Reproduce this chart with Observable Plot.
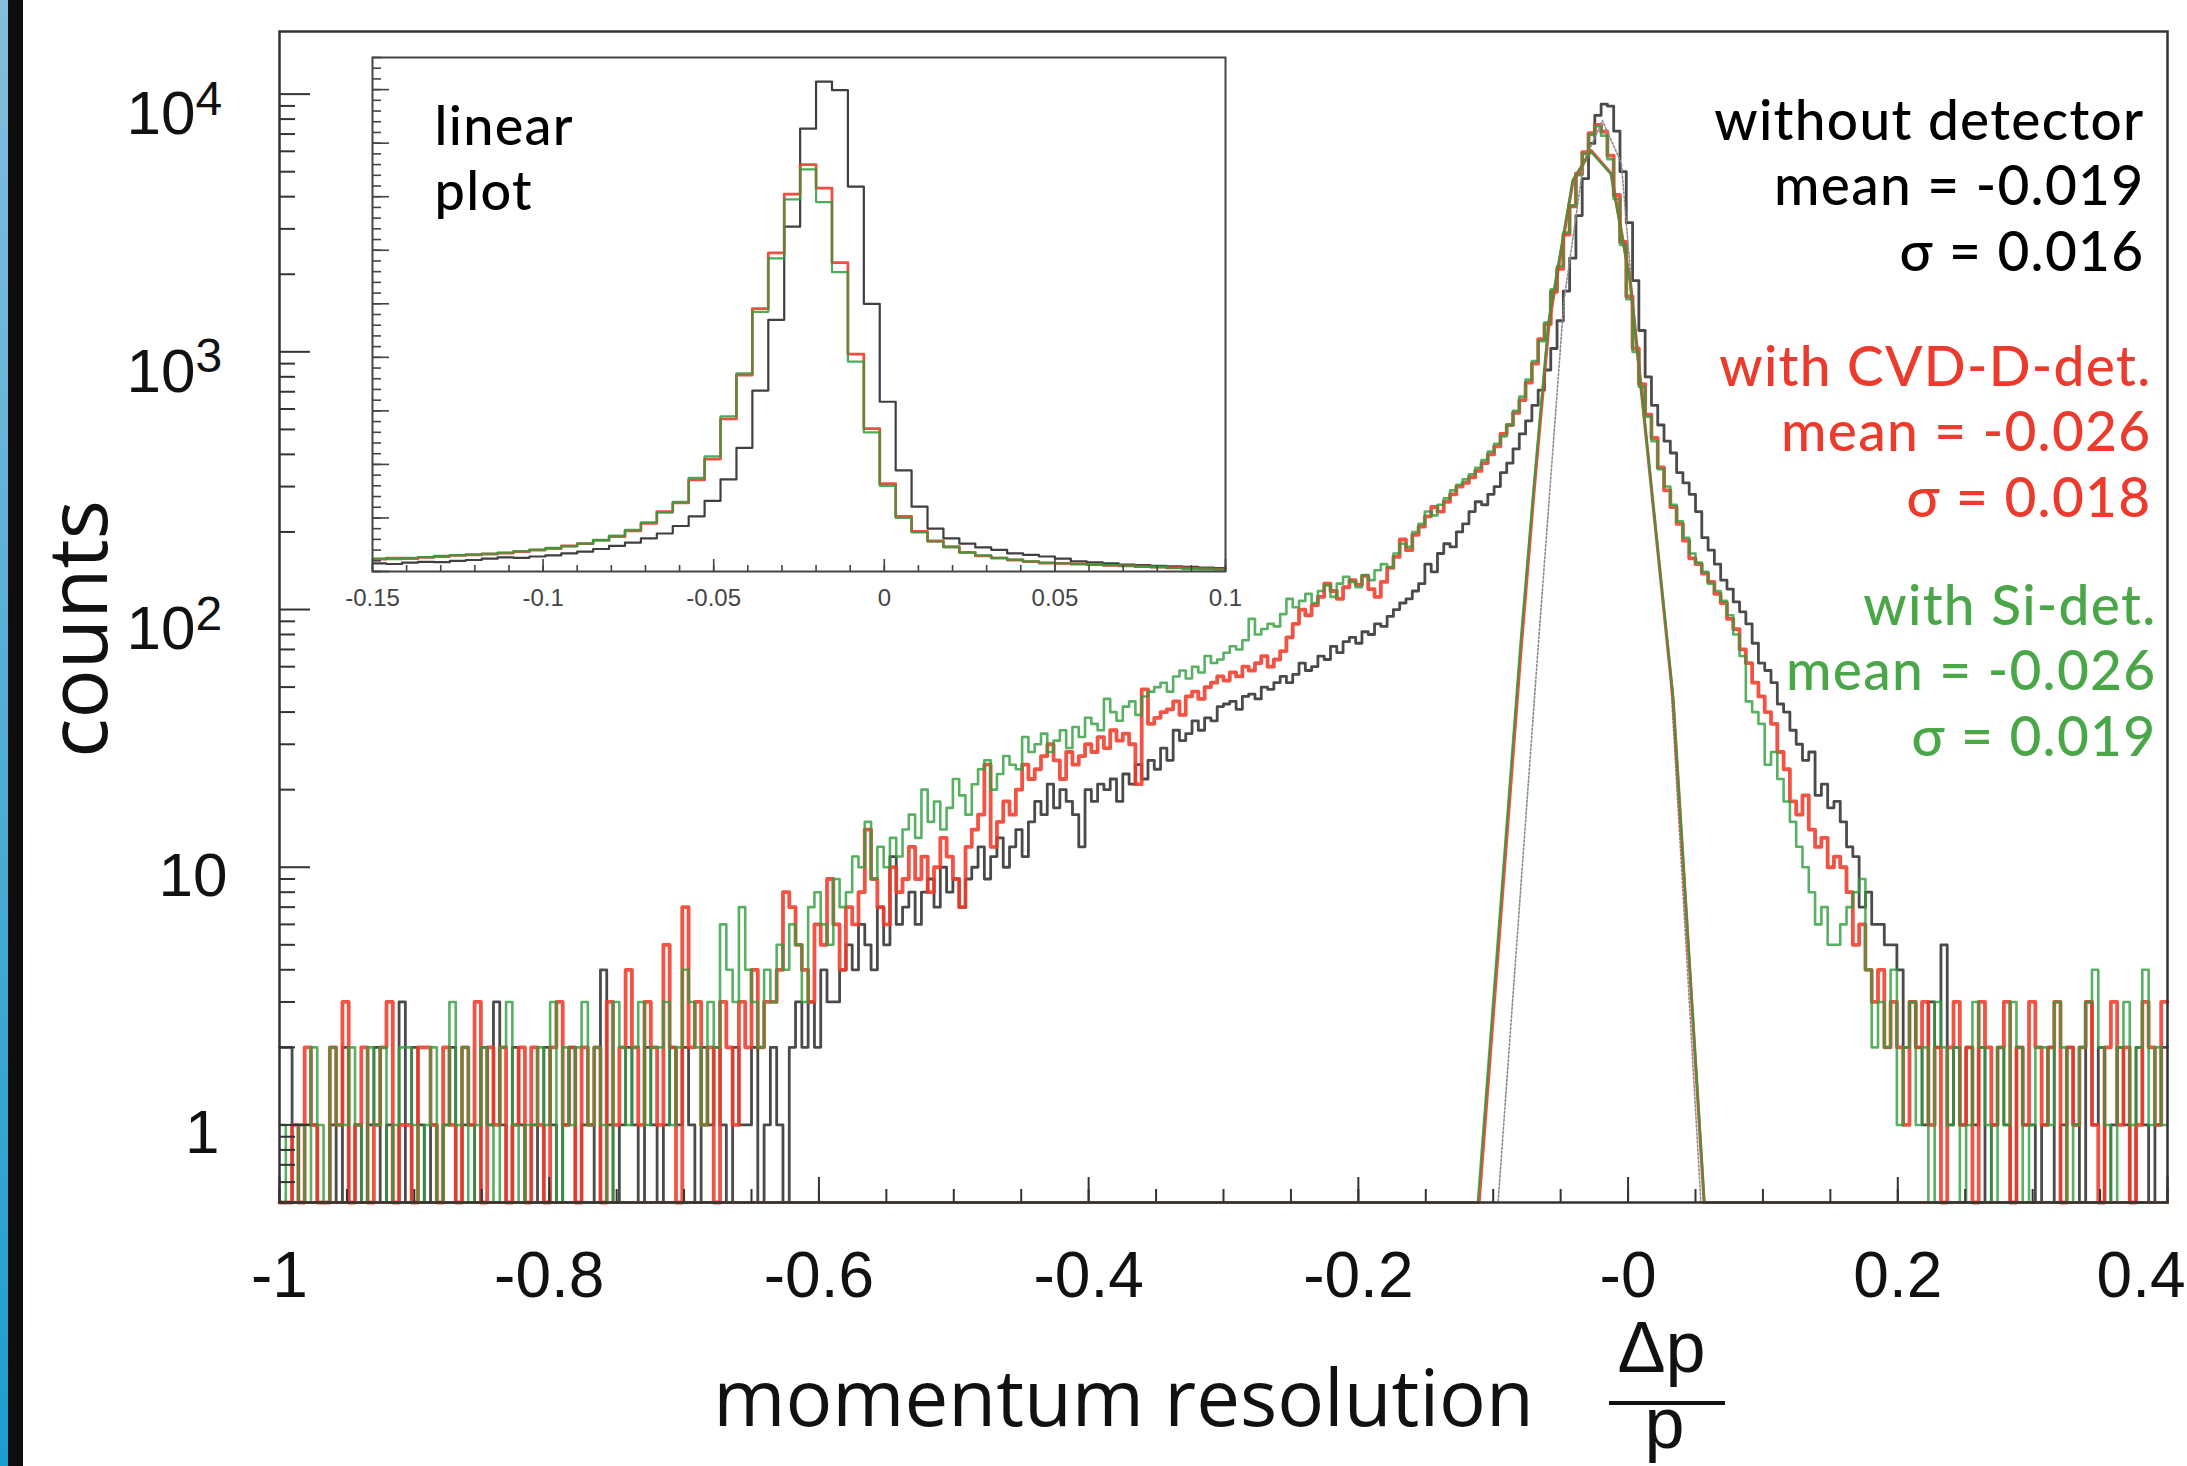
<!DOCTYPE html>
<html><head><meta charset="utf-8">
<script src="https://cdn.jsdelivr.net/npm/d3@7"></script>
<script src="https://cdn.jsdelivr.net/npm/@observablehq/plot@0.6"></script>
<style>
html,body{margin:0;padding:0;background:#fff;}
#wrap{position:relative;width:2187px;height:1466px;overflow:hidden;background:#fff;}
#main{position:absolute;left:0;top:0;}
#inset{position:absolute;left:352px;top:47px;}
.stripBlue{position:absolute;left:0;top:0;width:8px;height:1466px;background:linear-gradient(#86bedb,#1d9dcf);}
.stripBlack{position:absolute;left:8px;top:0;width:15px;height:1466px;background:#0d0d0d;}
g[font-family^="Lato"]{letter-spacing:1.3px;}
</style></head>
<body><div id="wrap"><div id="main"></div><div id="inset"></div><div class="stripBlue"></div><div class="stripBlack"></div></div>
<script>
// ---------------- data ----------------
const xStart = -1, xEnd = 0.4;          // histogram range (300 bins)
const blackCounts = [
2,2,0,1,1,1,0,0,1,0, 2,0,1,0,1,2,0,1,0,3,
0,2,1,0,1,0,1,2,0,1, 1,0,2,1,3,1,0,2,1,0,
1,0,2,1,0,1,2,0,1,1, 0,4,1,0,1,2,1,0,2,1,
0,1,2,1,2,1,0,2,1,2, 1,0,2,1,1,2,0,1,2,1,
0,2,3,2,3,2,4,3,3,4, 5,4,6,5,4,7,5,11,6,7,
8,6,8,9,7,10,8,9,7,9, 10,12,9,11,13,10,12,14,11,15,
18,16,21,17,20,18,16,12,20,18, 21,20,22,18,23,21,25,22,26,24,
29,26,34,31,33,37,34,38,37,42, 43,44,41,46,47,45,50,49,52,55,
52,56,62,58,60,66,64,72,68,75, 78,74,82,80,88,86,94,100,106,110,
118,126,150,140,165,180,175,200,215,240, 262,255,280,300,340,370,420,480,540,620,
710,850,1030,1320,1720,2310,3380,4700,6440,8270, 9150,8990,7190,5000,3170,1890,1210,800,620,520,
450,405,340,310,280,240,190,170,150,130, 120,107,98,88,74,62,58,52,43,40,
34,30,26,28,19,21,17,18,15,12, 11,7,8,6,6,5,5,4,2,3,
2,1,3,2,5,1,2,1,2,1, 2,0,1,2,1,0,2,1,1,0,
1,2,0,1,2,1,0,3,1,2, 0,1,2,1,0,2,1,0,1,2];
const redCounts = [
0,0,1,0,2,1,0,0,2,1, 3,0,1,2,0,1,2,3,0,1,
1,0,2,2,1,0,2,1,0,2, 1,3,0,2,1,2,0,1,2,0,
2,1,0,2,3,1,2,0,2,1, 2,0,3,1,2,4,2,1,3,2,
1,5,2,0,7,2,3,1,2,0, 3,2,1,3,2,4,2,3,3,4,
8,7,5,4,3,6,5,9,6,4, 7,6,8,14,9,7,6,10,8,9,
12,9,11,8,10,13,11,9,7,12, 14,16,25,12,15,18,16,20,25,22,
24,27,30,26,22,28,25,27,30,28, 32,29,34,31,33,30,21,49,36,38,
40,41,44,39,46,48,45,50,52,55, 53,57,55,60,58,62,66,60,64,69,
78,88,100,95,104,112,126,118,110,122, 130,125,135,120,112,128,145,160,187,170,
195,210,230,250,240,262,280,300,310,326, 345,370,400,430,480,520,580,650,760,900,
1120,1280,1710,2100,2850,3670,4910,5950,7050,7600, 7160,5770,4060,2670,1640,1030,750,570,463,356,
290,250,215,185,158,150,138,128,115,106, 92,84,70,62,52,46,40,36,28,24,
18,16,19,14,12,13,10,11,10,8, 5,6,4,3,4,2,3,2,1,3,
2,3,1,2,0,2,3,1,2,0, 3,2,1,2,3,0,2,1,3,2,
1,2,3,0,2,1,2,3,1,0, 2,3,1,2,0,1,3,2,1,3];
const greenCounts = [
1,0,0,1,0,2,1,0,2,1, 1,2,1,0,2,1,2,0,1,2,
2,1,0,1,2,0,1,3,1,2, 0,1,2,1,0,2,3,1,0,1,
1,2,1,3,0,2,1,2,3,1, 2,1,0,3,2,1,2,3,1,2,
2,3,1,2,4,3,2,1,3,2, 6,4,3,7,4,3,2,4,3,5,
4,6,5,3,7,8,6,5,9,7, 8,11,10,15,9,12,10,13,11,14,
16,13,20,15,18,14,17,22,19,16, 21,24,26,20,23,27,25,24,32,28,
30,33,28,31,34,29,35,32,38,36, 34,45,40,37,42,44,39,46,48,50,
52,48,55,58,54,60,57,66,62,64, 68,72,70,76,92,80,84,88,86,96,
110,102,108,115,106,118,124,112,126,134, 128,122,136,130,142,150,146,165,180,175,
200,215,240,232,255,270,290,305,320,335, 355,380,410,440,470,520,590,670,780,920,
1100,1300,1750,2150,2900,3700,4850,5850,6950,7510, 6900,5590,3920,2600,1600,1000,730,560,450,350,
300,255,220,190,165,152,140,126,118,108, 95,80,66,44,40,36,25,28,22,18,
15,12,10,8,6,7,5,5,6,7, 8,9,4,2,3,2,4,1,2,3,
1,2,0,3,2,1,2,0,1,3, 2,1,0,2,1,3,2,0,1,2,
2,1,3,2,0,1,2,3,4,2, 1,0,2,3,1,2,4,1,2,1];

// fit curves (values below the axis minimum sit on the frame)
const fitRedX   = [-1, -0.1105, -0.0794, -0.0697, -0.0586, -0.0408, -0.0274, -0.0126, 0.0015, 0.0334, 0.0564, 0.4];
const fitRedY   = [0.5, 0.5, 70, 290, 1290, 4620, 6040, 4920, 1890, 44.6, 0.5, 0.5];
const fitGreenX = [-1, -0.1115, -0.0800, -0.0700, -0.0590, -0.0410, -0.0276, -0.0128, 0.0013, 0.0334, 0.0566, 0.4];
const fitGreenY = [0.5, 0.5, 72, 300, 1320, 4650, 5980, 4900, 1900, 46, 0.5, 0.5];
const fitGrayX  = [-1, -0.0964, -0.0668, -0.0475, -0.0330, -0.0190, -0.0050, 0.0035, 0.0310, 0.0540, 0.4];
const fitGrayY  = [0.5, 0.5, 70, 1585, 5400, 7900, 5400, 1585, 60, 0.5, 0.5];

// axes
const xMajor = [-1, -0.8, -0.6, -0.4, -0.2, 0, 0.2, 0.4];
const xMajorLabels = ["-1", "-0.8", "-0.6", "-0.4", "-0.2", "-0", "0.2", "0.4"];
const yLabelValues = [1, 10, 100, 1000, 10000];
const yLabelBase = ["1", "10", "10", "10", "10"];
const yLabelExp  = ["", "", "2", "3", "4"];
const insetXMajor = [-0.15, -0.1, -0.05, 0, 0.05, 0.1];
const insetXLabels = ["-0.15", "-0.1", "-0.05", "0", "0.05", "0.1"];

const blackText = "without detector\nmean = -0.019\nσ = 0.016";
const redText   = "with CVD-D-det.\nmean = -0.026\nσ = 0.018";
const greenText = "with Si-det.\nmean = -0.026\nσ = 0.019";

// ---------------- helpers ----------------
function steps(counts){
  const w = (xEnd - xStart) / counts.length;
  const pts = counts.map((c, i) => ({x: xStart + i * w, c}));
  pts.push({x: xEnd, c: counts[counts.length - 1]});
  return pts;
}
const zip = (xs, ys) => xs.map((x, i) => ({x, y: ys[i]}));

const C_BLACK = "#2a2a2a", C_RED = "#ef3b2a", C_GREEN = "#2e9e3c";
const TXT_RED = "#ec3a2c", TXT_GREEN = "#4aa748";
const COMIC = "Lato, 'Open Sans', sans-serif";
const TITLE = "'Open Sans', Lato, sans-serif";
const HELV = "'Liberation Sans', Arial, sans-serif";

// ---------------- main plot ----------------
const W = 2187, H = 1466, mL = 279, mR = 20, mT = 31, mB = 264;
const fw = W - mL - mR, fh = H - mT - mB;
const yMin = 0.5, yMax = 17500;

const xMinor = d3.range(0, 29).map(i => +(-1 + i * 0.05).toFixed(3));
const yMajor = [1, 10, 100, 1000, 10000];
const yMinor = [];
[0.1, 1, 10, 100, 1000].forEach(d => { for (let m = 2; m <= 9; m++) { const v = d * m; if (v >= yMin && v <= yMax) yMinor.push(v); } });

const hy = d => Math.max(d.c, yMin);
const fy = d => Math.max(d.y, yMin);

const yLab = yLabelValues.map((v, i) => ({v, b: yLabelBase[i], e: yLabelExp[i]}));
const labelsOne = yLab.filter(d => d.b === "1");
const labelsTen = yLab.filter(d => d.b === "10" && d.e === "");
const labelsExp = yLab.filter(d => d.e !== "");
const xLab = xMajor.map((v, i) => ({v, t: xMajorLabels[i]}));
const xLabInner = xLab.slice(0, -1), xLabLast = xLab.slice(-1);

function fractionBar(index, scales, values, dims){
  const cx = dims.marginLeft + (dims.width - dims.marginLeft - dims.marginRight) / 2 + 444;
  const yb = dims.height - dims.marginBottom + 201;
  return d3.create("svg:line")
    .attr("x1", cx - 58).attr("x2", cx + 58)
    .attr("y1", yb).attr("y2", yb)
    .attr("stroke", "#111").attr("stroke-width", 4).node();
}

const main = Plot.plot({
  width: W, height: H,
  marginLeft: mL, marginRight: mR, marginTop: mT, marginBottom: mB,
  x: {domain: [xStart, xEnd], axis: null},
  y: {type: "log", domain: [yMin, yMax], axis: null},
  style: {background: "transparent", overflow: "visible", fontFamily: HELV},
  marks: [
    Plot.line(steps(blackCounts), {x: "x", y: hy, curve: "step-after", stroke: C_BLACK, strokeWidth: 2.8, strokeOpacity: 0.85}),
    Plot.line(steps(redCounts), {x: "x", y: hy, curve: "step-after", stroke: C_RED, strokeWidth: 3.8, strokeOpacity: 0.88}),
    Plot.line(steps(greenCounts), {x: "x", y: hy, curve: "step-after", stroke: C_GREEN, strokeWidth: 2.6, strokeOpacity: 0.8}),
    Plot.line(zip(fitGrayX, fitGrayY), {x: "x", y: fy, stroke: "#8c8c8c", strokeWidth: 1.6, strokeDasharray: "2,2"}),
    Plot.line(zip(fitRedX, fitRedY), {x: "x", y: fy, stroke: C_RED, strokeWidth: 3.2, strokeOpacity: 0.9}),
    Plot.line(zip(fitGreenX, fitGreenY), {x: "x", y: fy, stroke: C_GREEN, strokeWidth: 2.2, strokeOpacity: 0.85}),
    // ticks
    Plot.ruleX(xMajor, {x: d => d, insetTop: fh - 25, stroke: "#333", strokeWidth: 2}),
    Plot.ruleX(xMinor, {x: d => d, insetTop: fh - 13, stroke: "#333", strokeWidth: 2}),
    Plot.ruleY(yMajor, {y: d => d, insetRight: fw - 31, stroke: "#333", strokeWidth: 2}),
    Plot.ruleY(yMinor, {y: d => d, insetRight: fw - 16, stroke: "#333", strokeWidth: 2}),
    Plot.frame({stroke: "#333", strokeWidth: 2.5}),
    // tick labels
    Plot.text(xLabInner, {x: "v", text: "t", frameAnchor: "bottom", lineAnchor: "middle", dy: 74, fontSize: 64, fill: "#111", fontFamily: HELV}),
    Plot.text(xLabLast, {x: "v", text: "t", frameAnchor: "bottom", lineAnchor: "middle", dy: 74, dx: 18, textAnchor: "end", fontSize: 64, fill: "#111", fontFamily: HELV}),
    Plot.text(labelsOne, {y: "v", text: "b", frameAnchor: "left", dx: -60, dy: 8, textAnchor: "end", lineAnchor: "middle", fontSize: 62, fill: "#111", fontFamily: HELV}),
    Plot.text(labelsTen, {y: "v", text: "b", frameAnchor: "left", dx: -52, dy: 9, textAnchor: "end", lineAnchor: "middle", fontSize: 62, fill: "#111", fontFamily: HELV}),
    Plot.text(labelsExp, {y: "v", text: "b", frameAnchor: "left", dx: -84, dy: 20, textAnchor: "end", lineAnchor: "middle", fontSize: 62, fill: "#111", fontFamily: HELV}),
    Plot.text(labelsExp, {y: "v", text: "e", frameAnchor: "left", dx: -84, dy: 5, textAnchor: "start", lineAnchor: "middle", fontSize: 48, fill: "#111", fontFamily: HELV}),
    // axis titles
    Plot.text(["counts"], {text: d => d, frameAnchor: "left", textAnchor: "middle", lineAnchor: "middle", dx: -199, dy: 12, rotate: -90, fontSize: 82, fill: "#111", fontFamily: TITLE}),
    Plot.text(["momentum resolution"], {text: d => d, frameAnchor: "bottom", lineAnchor: "middle", dx: -100, dy: 199, fontSize: 78, fill: "#111", fontFamily: TITLE}),
    Plot.text(["Δp"], {text: d => d, frameAnchor: "bottom", lineAnchor: "middle", dx: 438, dy: 146, fontSize: 72, fill: "#111", fontFamily: HELV}),
    Plot.text(["p"], {text: d => d, frameAnchor: "bottom", lineAnchor: "middle", dx: 441, dy: 222, fontSize: 72, fill: "#111", fontFamily: HELV}),
    fractionBar,
    // annotations
    Plot.text([blackText], {text: d => d, frameAnchor: "top-right", dx: -23, dy: 62, textAnchor: "end", lineAnchor: "top", lineHeight: 1.19, fontSize: 55, fontWeight: 500, fill: "#000", fontFamily: COMIC}),
    Plot.text([redText], {text: d => d, frameAnchor: "top-right", dx: -16, dy: 308, textAnchor: "end", lineAnchor: "top", lineHeight: 1.19, fontSize: 55, fontWeight: 500, fill: TXT_RED, fontFamily: COMIC}),
    Plot.text([greenText], {text: d => d, frameAnchor: "top-right", dx: -11, dy: 547, textAnchor: "end", lineAnchor: "top", lineHeight: 1.19, fontSize: 55, fontWeight: 500, fill: TXT_GREEN, fontFamily: COMIC})
  ]
});
document.getElementById("main").appendChild(main);

// ---------------- inset (linear) ----------------
const iW = 900, iH = 570, imL = 20, imR = 27, imT = 10, imB = 46;
const ifw = iW - imL - imR, ifh = iH - imT - imB;
const ixMin = -0.15, ixMax = 0.1, iyMax = 9600;
const inDom = pts => pts.filter(d => d.x >= ixMin - 0.005 && d.x <= ixMax + 0.005);
const ixMinor = d3.range(0, 26).map(i => +(ixMin + i * 0.01).toFixed(3));
const iyMajor = d3.range(0, 10).map(i => i * 1000);
const iyMinor = d3.range(0, 49).map(i => i * 200);
const ixLab = insetXMajor.map((v, i) => ({v, t: insetXLabels[i]}));

const inset = Plot.plot({
  width: iW, height: iH,
  marginLeft: imL, marginRight: imR, marginTop: imT, marginBottom: imB,
  x: {domain: [ixMin, ixMax], axis: null},
  y: {domain: [0, iyMax], axis: null},
  style: {background: "transparent", overflow: "visible", fontFamily: HELV},
  marks: [
    Plot.line(inDom(steps(blackCounts)), {x: "x", y: "c", curve: "step-after", stroke: C_BLACK, strokeWidth: 2.2, strokeOpacity: 0.9, clip: true}),
    Plot.line(inDom(steps(redCounts)), {x: "x", y: "c", curve: "step-after", stroke: C_RED, strokeWidth: 2.8, strokeOpacity: 0.9, clip: true}),
    Plot.line(inDom(steps(greenCounts)), {x: "x", y: "c", curve: "step-after", stroke: C_GREEN, strokeWidth: 2.2, strokeOpacity: 0.85, clip: true}),
    Plot.ruleX(insetXMajor, {x: d => d, insetTop: ifh - 12, stroke: "#444", strokeWidth: 1.6}),
    Plot.ruleX(ixMinor, {x: d => d, insetTop: ifh - 6, stroke: "#444", strokeWidth: 1.6}),
    Plot.ruleY(iyMajor, {y: d => d, insetRight: ifw - 17, stroke: "#444", strokeWidth: 1.6}),
    Plot.ruleY(iyMinor, {y: d => d, insetRight: ifw - 9, stroke: "#444", strokeWidth: 1.6}),
    Plot.frame({stroke: "#444", strokeWidth: 2}),
    Plot.text(ixLab, {x: "v", text: "t", frameAnchor: "bottom", lineAnchor: "middle", dy: 27, fontSize: 24, fill: "#444", fontFamily: HELV}),
    Plot.text(["linear\nplot"], {text: d => d, frameAnchor: "top-left", dx: 62, dy: 41, textAnchor: "start", lineAnchor: "top", lineHeight: 1.21, fontSize: 54, fontWeight: 500, fill: "#000", fontFamily: COMIC})
  ]
});
document.getElementById("inset").appendChild(inset);
</script>
</body></html>
